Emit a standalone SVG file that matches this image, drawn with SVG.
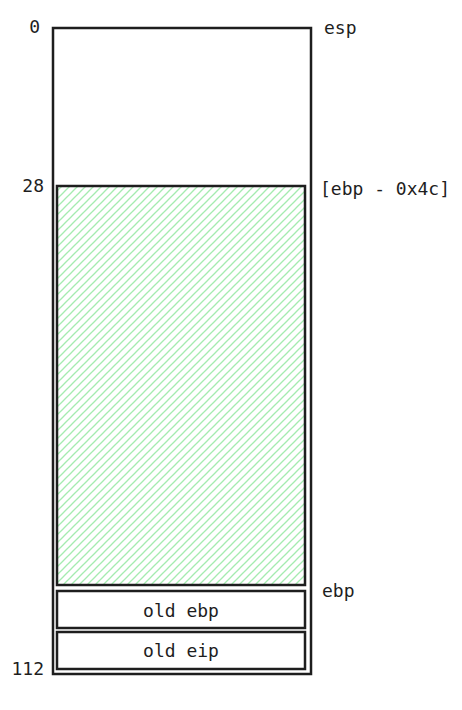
<svg xmlns="http://www.w3.org/2000/svg" width="462" height="710" viewBox="0 0 462 710">
<style>
text{font-family:"DejaVu Sans Mono","Liberation Mono",monospace;font-size:18px;fill:#1e1e1e}
.box{fill:none;stroke:#1e1e1e;stroke-width:2.5}
.h{stroke:#a5ebb0;stroke-width:1.3}
</style>
<defs>
<pattern id="hatch" patternUnits="userSpaceOnUse" width="8" height="8">
<line class="h" x1="0" y1="8" x2="8" y2="0"/>
<line class="h" x1="-1" y1="1" x2="1" y2="-1"/>
<line class="h" x1="7" y1="9" x2="9" y2="7"/>
</pattern>
</defs>
<rect width="462" height="710" fill="#fff"/>
<g id="stack">
<rect class="box" x="53" y="28" width="258" height="646"/>
</g>
<g id="buffer">
<rect x="57" y="186" width="248" height="399" fill="url(#hatch)" stroke="#1e1e1e" stroke-width="2.5"/>
</g>
<g id="old-ebp">
<rect class="box" x="57" y="591" width="248" height="37"/>
<text x="181" y="617" text-anchor="middle">old ebp</text>
</g>
<g id="old-eip">
<rect class="box" x="57" y="632" width="248" height="37"/>
<text x="181" y="657" text-anchor="middle">old eip</text>
</g>
<g id="labels">
<text x="40" y="33" text-anchor="end">0</text>
<text x="44" y="192" text-anchor="end">28</text>
<text x="44" y="675" text-anchor="end">112</text>
<text x="324" y="34">esp</text>
<text x="320" y="195">[ebp - 0x4c]</text>
<text x="322" y="597">ebp</text>
</g>
<g id="connectors"/>
</svg>
